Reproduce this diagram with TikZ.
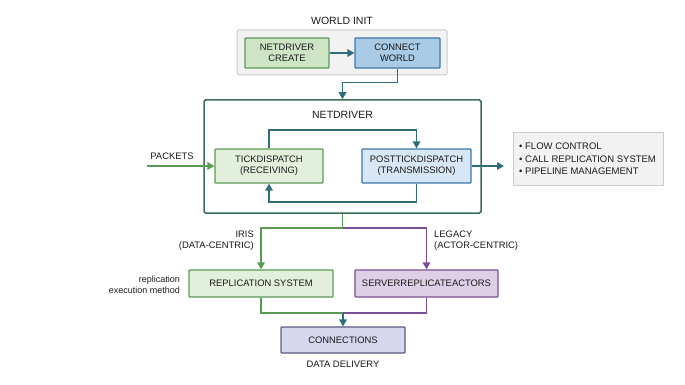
\documentclass[tikz,border=0pt]{standalone}
\usepackage{fontspec}
\setmainfont{Liberation Sans}
\usetikzlibrary{arrows.meta,calc}
\definecolor{tealc}{HTML}{2E6E7A}
\definecolor{gfill}{HTML}{CDE4C5}
\definecolor{gdraw}{HTML}{5A9A55}
\definecolor{bfill}{HTML}{A9CBE6}
\definecolor{bdraw}{HTML}{3A78AE}
\definecolor{lgfill}{HTML}{E2EFDB}
\definecolor{lbfill}{HTML}{D8E7F6}
\definecolor{pfill}{HTML}{DDD0E6}
\definecolor{pdraw}{HTML}{7A4F95}
\definecolor{cfill}{HTML}{D6D6EE}
\definecolor{cdraw}{HTML}{5A5A8C}
\definecolor{ndraw}{HTML}{3B6E55}
\definecolor{txt}{HTML}{1A1A1A}
\tikzset{
  box/.style={draw, line width=1.2pt, align=center, font=\fontsize{9.4}{11}\selectfont, text=txt, inner sep=1pt, rounded corners=0.8pt},
  lbl/.style={font=\fontsize{9.4}{11}\selectfont, text=txt, inner sep=0pt},
  ttl/.style={font=\fontsize{10.5}{12}\selectfont, text=txt, inner sep=0pt},
  small/.style={font=\fontsize{9}{11}\selectfont, text=txt, inner sep=0pt, align=right},
  conn/.style={line width=1.8pt, -{Triangle[length=7pt,width=7.5pt]}},
  plain/.style={line width=1.8pt}
}
\begin{document}
\begin{tikzpicture}[x=1pt,y=-1pt]
\useasboundingbox (0,0) rectangle (685,385);
% world init
\node[draw=black!20, fill=black!5, line width=1pt, rounded corners=1.5pt, minimum width=210pt, minimum height=45pt] (wi) at (342,52.5) {};
\node[ttl] (wit) at (342,21) {WORLD INIT};
\node[box, draw=gdraw, fill=gfill, minimum width=84pt, minimum height=30pt] (nc) at (287,53) {NETDRIVER\\CREATE};
\node[box, draw=bdraw, fill=bfill, minimum width=85pt, minimum height=30pt] (cw) at (397.5,53) {CONNECT\\WORLD};
\draw[conn, tealc] (nc) -- (cw);
% netdriver
\node[draw=ndraw, line width=1.5pt, rounded corners=1.5pt, minimum width=277pt, minimum height=113pt] (nd) at (342.5,156.5) {};
\node[ttl] (ndt) at (342.5,115) {NETDRIVER};
\draw[conn, tealc] (cw.south) -- ++(0,14) -| (nd.north);
\node[box, draw=gdraw, fill=lgfill, minimum width=108pt, minimum height=34pt] (tick) at (269,166) {TICKDISPATCH\\(RECEIVING)};
\node[box, draw=bdraw, fill=lbfill, minimum width=109pt, minimum height=34pt] (post) at (416.5,166) {POSTTICKDISPATCH\\(TRANSMISSION)};
\draw[conn, tealc] (tick.north) -- ++(0,-18) -| (post.north);
\draw[conn, tealc] (post.south) -- ++(0,18) -| (tick.south);
\coordinate (pk) at (147,166);
\node[lbl] (pkt) at (172,156) {PACKETS};
\draw[conn, gdraw] (pk) -- (tick.west);
\coordinate (out) at (504,166);
\draw[conn, tealc] (post.east) -- (out);
\node[draw=black!20, fill=black!5, line width=1pt, minimum width=150pt, minimum height=52pt] (info) at (588,159) {};
\node[lbl, anchor=west, align=left, font=\fontsize{9.5}{12.5}\selectfont] (infot) at (519,159) {• FLOW CONTROL\\• CALL REPLICATION SYSTEM\\• PIPELINE MANAGEMENT};
% split
\node[box, draw=gdraw, fill=lgfill, minimum width=144pt, minimum height=27pt] (rs) at (261,283.5) {REPLICATION SYSTEM};
\node[box, draw=pdraw, fill=pfill, minimum width=143pt, minimum height=27pt] (sra) at (426.5,283.5) {SERVERREPLICATEACTORS};
\draw[plain, gdraw] (nd.south) -- ++(0,14) coordinate (sp);
\draw[conn, gdraw] (sp) -| (rs.north);
\draw[conn, pdraw] (sp) -| (sra.north);
\node[lbl, anchor=east, align=right] (iris) at (254,241) {IRIS\\(DATA-CENTRIC)};
\node[lbl, anchor=west, align=left] (leg) at (434,241) {LEGACY\\(ACTOR-CENTRIC)};
\node[small, anchor=east] (rem) at (180,284.5) {replication\\execution method};
% merge
\node[box, draw=cdraw, fill=cfill, minimum width=124pt, minimum height=26pt] (cn) at (343,340) {CONNECTIONS};
\coordinate (mg) at (343,313);
\draw[plain, gdraw] (rs.south) |- (mg);
\draw[plain, pdraw] (sra.south) |- (mg);
\draw[conn, tealc] (mg) -- (cn.north);
\node[lbl] (dd) at (343,364) {DATA DELIVERY};
\end{tikzpicture}
\end{document}
